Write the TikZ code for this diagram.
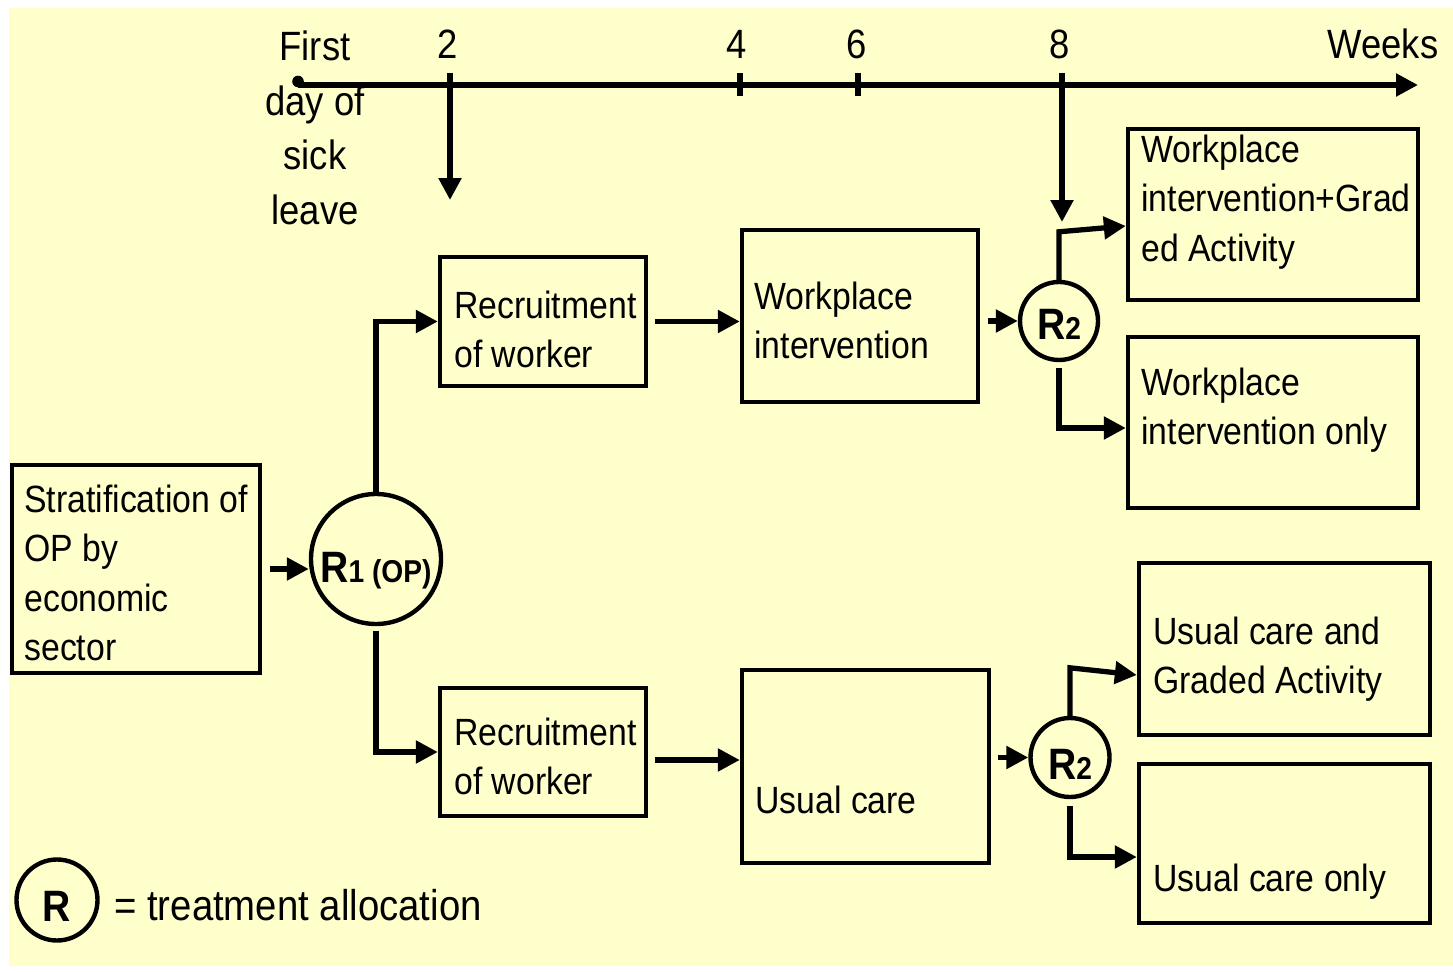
\documentclass[tikz,border=0pt]{standalone}
\usepackage{fontspec}
\setmainfont{Liberation Sans}[FakeStretch=0.89]
\usepackage{tikz}
\usetikzlibrary{calc, arrows.meta}
\definecolor{NoteYellow}{HTML}{FFFFCC}
\definecolor{InkBlack}{HTML}{000000}

\begin{document}
\begin{tikzpicture}[x=0.02cm, y=-0.02cm,
    flow/.style={-{Triangle[length=12.5pt,width=12.5pt]}, InkBlack, line width=3pt},
    box/.style 2 args={draw=InkBlack, line width=2.5pt, rectangle, inner sep=0pt,
      minimum width=#1*0.02cm, minimum height=#2*0.02cm},
    alloc/.style={draw=InkBlack, line width=2.5pt, circle, inner sep=0pt, text depth=0pt,
      font=\bfseries},
    txt/.style={anchor=north west, inner sep=0pt, align=left,
      font=\fontsize{21.6}{28.2}\selectfont},
    tlab/.style={inner sep=0pt, font=\fontsize{23.3}{31.3}\selectfont}]
  \useasboundingbox (0,0) rectangle (1453,972);
  \fill[NoteYellow] (9,8) rectangle (1453,966);

  % time line
  \coordinate (t0) at (298,85);
  \coordinate (tend) at (1418,85);
  \draw[flow] (t0) -- (tend);
  \fill[InkBlack] (298,81.5) circle (3.3pt);
  \foreach \x/\w in {448/2, 737/4, 857/6, 1060/8}{
    \node[tlab, anchor=base] (wk\w) at (\x,59) {\w};
  }
  \node[tlab, anchor=base] (weeks) at (1383,59) {Weeks};
  \node[tlab, anchor=north, align=center] (firstday) at (315,30) {First\\day of\\sick\\leave};
  \foreach \x in {740,858}{
    \draw[InkBlack, line width=3pt] (\x,73) -- (\x,96);
  }
  \coordinate (wk2top) at (450,73);
  \coordinate (wk2end) at (450,200);
  \coordinate (wk8top) at (1062,73);
  \coordinate (wk8end) at (1062,222);
  \draw[flow] (wk2top) -- (wk2end);
  \draw[flow] (wk8top) -- (wk8end);

  % boxes
  \node[box={248}{208}] (strat) at (136,569) {};
  \node[box={206}{129}] (rec1) at (543,321.5) {};
  \node[box={236}{172}] (wpi) at (860,316) {};
  \node[box={290}{171}] (wpga) at (1273,214.5) {};
  \node[box={290}{171}] (wponly) at (1273,422.5) {};
  \node[box={206}{128}] (rec2) at (543,752) {};
  \node[box={247}{193}] (uc) at (865.5,766.5) {};
  \node[box={291}{172}] (ucga) at (1284.5,649) {};
  \node[box={291}{159}] (ucon) at (1284.5,843.5) {};

  \node[txt] (stratText) at (24,484.5) {Stratification of\\OP by\\economic\\sector};
  \node[txt] (rec1Text) at (454,290.5) {Recruitment\\of worker};
  \node[txt] (wpiText) at (754,281.5) {Workplace\\intervention};
  \node[txt] (wpgaText) at (1141,134.5) {Workplace\\intervention+Grad\\ed Activity};
  \node[txt] (wponlyText) at (1141,367.5) {Workplace\\intervention only};
  \node[txt] (rec2Text) at (454,717.5) {Recruitment\\of worker};
  \node[txt] (ucText) at (755,785.5) {Usual care};
  \node[txt] (ucgaText) at (1153,616.5) {Usual care and\\Graded Activity};
  \node[txt] (uconText) at (1153,863.5) {Usual care only};

  % allocation circles
  \node[alloc, minimum size=130*0.02cm, text height=26.2pt] (R1) at (376,559)
    {{\fontsize{25}{25}\selectfont R}{\fontsize{18}{18}\selectfont 1 (OP)}};
  \node[alloc, minimum size=78*0.02cm, text height=21.6pt] (R2a) at (1059,321)
    {{\fontsize{25}{25}\selectfont R}{\fontsize{18}{18}\selectfont 2}};
  \node[alloc, minimum size=79*0.02cm, text height=25.6pt] (R2b) at (1070,757.5)
    {{\fontsize{25}{25}\selectfont R}{\fontsize{18}{18}\selectfont 2}};

  \draw[flow] ($(strat.east)+(8,0)$) -- (strat.east -| R1.west);
  \draw[flow] (R1.north) |- (rec1.west);
  \draw[flow] ($(R1.south)+(0,5)$) |- (rec2.west);
  \draw[flow] ($(rec1.east)+(7,0)$) -- (rec1.east -| wpi.west);
  \draw[flow] ($(wpi.east |- R2a.west)+(8,0)$) -- (R2a.west);
  \draw[flow] (R2a.north) -- ++(0,-48) -- ($(wpga.west)+(0,11.5)$);
  \draw[flow] ($(R2a.south)+(0,6)$) |- ($(wponly.west)+(0,5.5)$);
  \draw[flow] ($(rec2.east |- uc.west)+(7,-6.5)$) -- ($(uc.west)+(0,-6.5)$);
  \draw[flow] ($(uc.east |- R2b.west)+(7,0)$) -- (R2b.west);
  \draw[flow] (R2b.north) -- ++(0,-48) -- ($(ucga.west)+(0,26)$);
  \draw[flow] ($(R2b.south)+(0,7)$) |- ($(ucon.west)+(0,13.5)$);

  % legend
  \node[alloc, minimum size=81*0.02cm, text height=25pt] (legR) at (57,900)
    {\fontsize{25}{25}\selectfont R};
  \node[anchor=base west, inner sep=0pt, font=\fontsize{24.5}{28}\selectfont] (legText)
    at (114,920) {= treatment allocation};
\end{tikzpicture}
\end{document}
